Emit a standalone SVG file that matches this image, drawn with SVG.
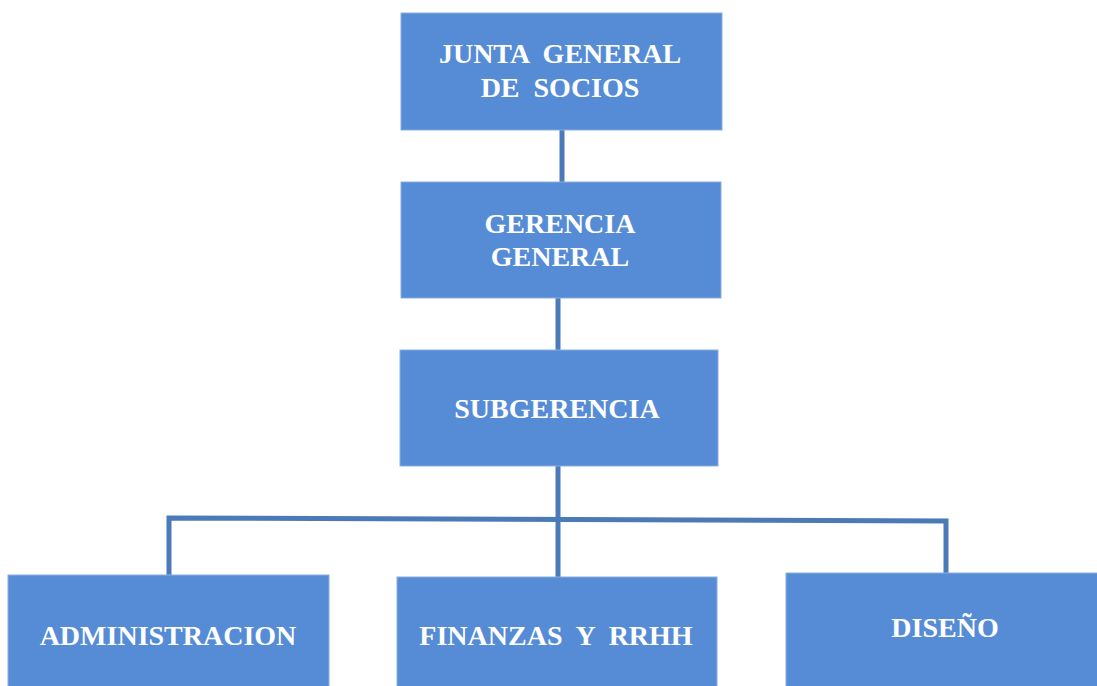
<svg xmlns="http://www.w3.org/2000/svg" width="1097" height="686" viewBox="0 0 1097 686">
<style>
.box{fill:#568cd6;stroke:#8aaedf;stroke-width:1}
.lbl{font-family:"Liberation Serif","Times New Roman",serif;font-weight:bold;font-size:28px;fill:#ffffff;text-anchor:middle;white-space:pre}
.conn{stroke:#4a7ab8;stroke-width:5;fill:none}
</style>
<rect width="1097" height="686" fill="#ffffff"/>
<g id="connectors">
<line class="conn" x1="562" y1="130" x2="562" y2="182"/>
<line class="conn" x1="558" y1="298" x2="558" y2="350"/>
<line class="conn" x1="558" y1="466" x2="558" y2="577"/>
<polyline class="conn" points="169,575 169,518 946,521 946,574"/>
</g>
<g id="junta">
<rect class="box" x="401" y="13" width="321" height="117"/>
<text class="lbl" x="560" y="63" xml:space="preserve">JUNTA  GENERAL</text>
<text class="lbl" x="560" y="97" xml:space="preserve">DE  SOCIOS</text>
</g>
<g id="gerencia">
<rect class="box" x="401" y="182" width="320" height="116"/>
<text class="lbl" x="560" y="233">GERENCIA</text>
<text class="lbl" x="560" y="266">GENERAL</text>
</g>
<g id="subgerencia">
<rect class="box" x="400" y="350" width="318" height="116"/>
<text class="lbl" x="557" y="418">SUBGERENCIA</text>
</g>
<g id="administracion">
<rect class="box" x="8" y="575" width="321" height="115"/>
<text class="lbl" x="168" y="645">ADMINISTRACION</text>
</g>
<g id="finanzas">
<rect class="box" x="397" y="577" width="320" height="113"/>
<text class="lbl" x="556" y="645" xml:space="preserve">FINANZAS  Y  RRHH</text>
</g>
<g id="diseno">
<rect class="box" x="786" y="573" width="315" height="117"/>
<text class="lbl" x="945" y="637">DISEÑO</text>
</g>
</svg>
